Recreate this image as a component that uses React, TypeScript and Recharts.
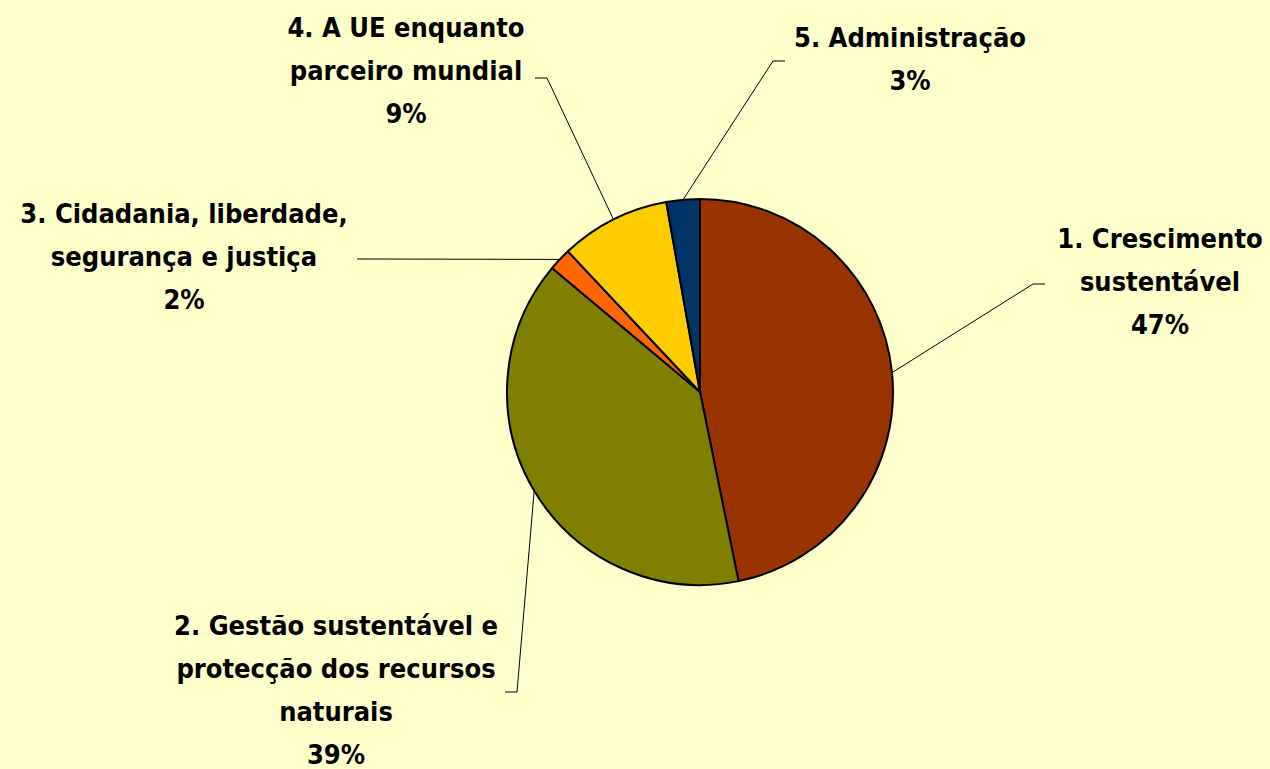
import React from 'react';
import { PieChart, Pie, Cell } from 'recharts';

// Budget headings (share of total, %)
const categories = [
  '1. Crescimento sustentável',
  '2. Gestão sustentável e protecção dos recursos naturais',
  '3. Cidadania, liberdade, segurança e justiça',
  '4. A UE enquanto parceiro mundial',
  '5. Administração',
];
const shares = [46.8, 39.3, 1.9, 9.2, 2.8];
const labelLines = [
  ['1. Crescimento', 'sustentável'],
  ['2. Gestão sustentável e', 'protecção dos recursos', 'naturais'],
  ['3. Cidadania, liberdade,', 'segurança e justiça'],
  ['4. A UE enquanto', 'parceiro mundial'],
  ['5. Administração'],
];
const colors = ['#993300', '#808000', '#FF6600', '#FFCC00', '#003366'];

// where each label block sits, and the bend of its leader line
const labelLayout = [
  { x: 1160, y: 248, bend: [1033, 284], end: [1045, 284] },
  { x: 336, y: 635, bend: [517, 692], end: [505, 692] },
  { x: 184, y: 223, bend: [380, 259], end: [357, 259] },
  { x: 406, y: 37, bend: [547, 78], end: [535, 78] },
  { x: 910, y: 47, bend: [773, 61], end: [785, 61] },
];

const data = categories.map((name, i) => ({ name, value: shares[i] }));
const total = shares.reduce((a, b) => a + b, 0);

const RAD = Math.PI / 180;
const LINE_H = 43;

const renderLabel = (props: any) => {
  const { cx, cy, midAngle, outerRadius, index } = props;
  const lay = labelLayout[index];
  const sx = cx + outerRadius * Math.cos(-midAngle * RAD);
  const sy = cy + outerRadius * Math.sin(-midAngle * RAD);
  const lines = [...labelLines[index], `${Math.round((shares[index] / total) * 100)}%`];
  return (
    <g key={`lbl-${index}`}>
      <polyline
        points={`${sx},${sy} ${lay.bend[0]},${lay.bend[1]} ${lay.end[0]},${lay.end[1]}`}
        fill="none"
        stroke="#000"
        strokeWidth={1}
      />
      <text
        x={lay.x}
        y={lay.y}
        textAnchor="middle"
        fill="#000"
        style={{ fontFamily: "'DejaVu Sans Condensed', 'Open Sans', sans-serif", fontSize: 27, fontWeight: 'bold' }}
      >
        {lines.map((t, i) => (
          <tspan key={i} x={lay.x} y={lay.y + i * LINE_H}>
            {t}
          </tspan>
        ))}
      </text>
    </g>
  );
};

export default function App() {
  return (
    <div style={{ position: 'absolute', left: 0, top: 0, width: 1270, height: 769, background: '#FFFFCC' }}>
      <PieChart width={1270} height={769} margin={{ top: 0, right: 0, bottom: 0, left: 0 }}>
        <Pie
          data={data}
          dataKey="value"
          nameKey="name"
          cx={700}
          cy={392}
          outerRadius={193}
          startAngle={90}
          endAngle={-270}
          stroke="#000"
          strokeWidth={2}
          label={renderLabel}
          labelLine={false}
          isAnimationActive={false}
        >
          {data.map((d, i) => (
            <Cell key={d.name} fill={colors[i]} />
          ))}
        </Pie>
      </PieChart>
    </div>
  );
}
